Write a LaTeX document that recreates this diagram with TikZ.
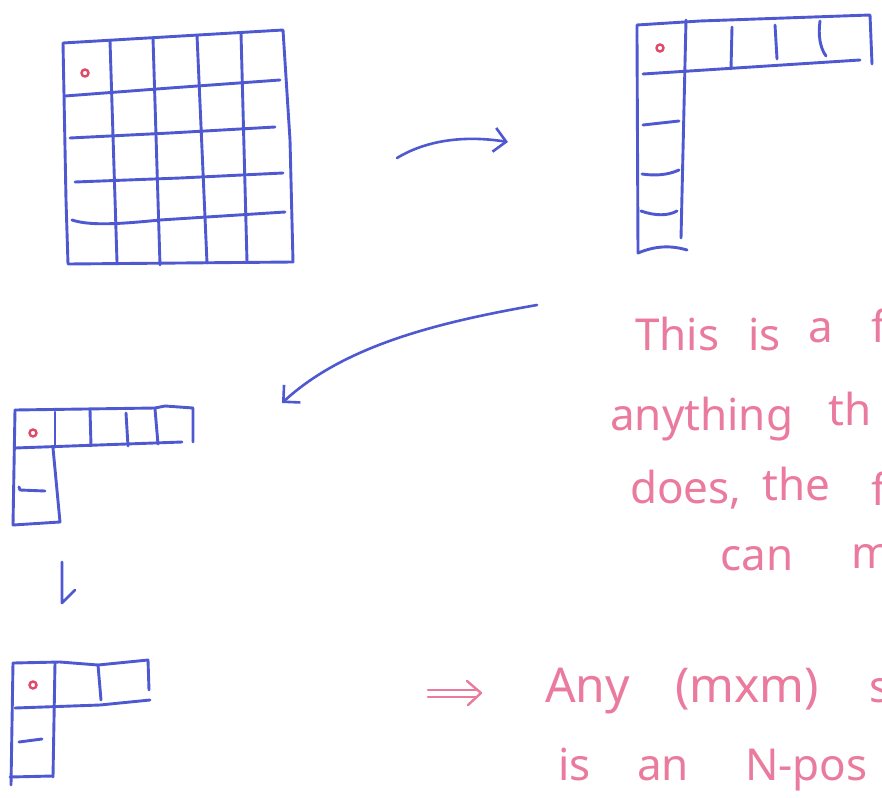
\documentclass[tikz,border=0pt]{standalone}
\usepackage{fontspec}
\setmainfont{Noto Sans}
\usetikzlibrary{arrows.meta}
\definecolor{pen}{RGB}{78,88,208}
\definecolor{ink}{RGB}{234,122,158}
\definecolor{dot}{RGB}{226,72,104}
\tikzset{
  gridline/.style={draw=pen, line width=2.9pt, line cap=round, line join=round},
  reddot/.style={draw=dot, line width=2.4pt, circle, minimum size=7pt, inner sep=0pt},
  hand/.style={text=ink, font=\fontsize{44}{44}\selectfont, anchor=base west, inner sep=0pt},
  big/.style={font=\fontsize{48}{48}\selectfont},
  flow/.style={draw=pen, line width=2.6pt, line cap=round, -{Straight Barb[length=12pt,width=24pt,line width=2.6pt]}},
  pinkpen/.style={draw=ink, line width=2.4pt, line cap=round, line join=round},
}
\begin{document}
\begin{tikzpicture}[x=1pt,y=-1pt]
\useasboundingbox (0,0) rectangle (882,797);
\fill[white] (0,0) rectangle (882,797);

% ---------- grid 1 (5x5) ----------
\draw[gridline] (63,43) -- (283,30) -- (290,140) -- (293,262) -- (68,264) -- (66,200) -- (63,43);
\draw[gridline] (110,41) -- (117,262);
\draw[gridline] (153,38) -- (160,265);
\draw[gridline] (197,35) -- (207,263);
\draw[gridline] (241,33) -- (247,262);
\draw[gridline] (65,96) -- (170,88) -- (280,80);
\draw[gridline] (70,138) -- (170,133) -- (275,127);
\draw[gridline] (75,182) -- (180,178) -- (283,173);
\draw[gridline] (72,220) .. controls (90,226) and (120,224) .. (160,220) -- (285,212);
\node[reddot] (d1) at (85,73) {};

% ---------- grid 2 (L shape, large) ----------
\draw[gridline] (637,36) -- (637,25) -- (700,21) -- (870,15) -- (872,64);
\draw[gridline] (643,74) -- (860,60);
\draw[gridline] (637,36) -- (638,253) .. controls (655,246) and (670,245) .. (687,250);
\draw[gridline] (686,20) -- (681,238);
\draw[gridline] (732,27) -- (731,69);
\draw[gridline] (775,25) -- (777,59);
\draw[gridline] (820,21) .. controls (818,35) and (820,48) .. (826,56);
\draw[gridline] (643,125) -- (679,121);
\draw[gridline] (642,174) .. controls (655,176) and (668,175) .. (679,170);
\draw[gridline] (641,211) .. controls (655,216) and (668,216) .. (677,211);
\node[reddot] (d2) at (660,48) {};

% ---------- grid 3 ----------
\draw[gridline] (15,410) -- (155,408) -- (165,406) -- (193,408) -- (193,442);
\draw[gridline] (15,448) -- (182,442);
\draw[gridline] (15,410) -- (13,525) -- (60,522) -- (53,448);
\draw[gridline] (55,412) -- (55,447);
\draw[gridline] (90,410) -- (91,446);
\draw[gridline] (126,413) -- (128,446);
\draw[gridline] (155,409) -- (158,444);
\draw[gridline] (19,487) -- (20,490) -- (45,491);
\node[reddot] (d3) at (33,433) {};

% ---------- grid 4 ----------
\draw[gridline] (13,663) -- (60,662) -- (98,665) -- (148,660) -- (149,690);
\draw[gridline] (15,708) -- (100,705) -- (150,700);
\draw[gridline] (13,663) -- (11,785);
\draw[gridline] (55,663) -- (53,777);
\draw[gridline] (10,777) -- (53,776);
\draw[gridline] (98,665) -- (101,700);
\draw[gridline] (19,742) -- (42,739);
\node[reddot] (d4) at (33,685) {};

% ---------- arrows ----------
\coordinate (a1s) at (397,158);
\coordinate (a1e) at (508,142);
\draw[flow] (a1s) .. controls (430,138) and (470,136) .. (a1e);
\coordinate (a2s) at (537,305);
\coordinate (a2e) at (282,403);
\draw[flow] (a2s) .. controls (440,322) and (345,345) .. (a2e);
\coordinate (a3s) at (62,562);
\coordinate (a3e) at (62,603);
\draw[draw=pen, line width=2.6pt, line cap=round, line join=round] (a3s) -- (a3e) -- (75,590);

% ---------- implies arrow ----------
\coordinate (i1) at (428,690);
\coordinate (i2) at (476,690);
\coordinate (i3) at (428,697);
\coordinate (i4) at (476,697);
\draw[pinkpen] (i1) -- (i2);
\draw[pinkpen] (i3) -- (i4);
\draw[pinkpen] (467,681) -- (481,693) -- (468,705);

% ---------- handwriting ----------
\node[hand] (t1) at (635,350) {This};
\node[hand] (t2) at (748,350) {is};
\node[hand] (t3) at (808,342) {a};
\node[hand] (t4) at (871,342) {f};
\node[hand] (t5) at (610,430) {anything};
\node[hand] (t6) at (828,425) {th};
\node[hand] (t7) at (630,503) {does,};
\node[hand] (t8) at (762,500) {the};
\node[hand] (t9) at (871,505) {f};
\node[hand] (t10) at (720,570) {can};
\node[hand] (t11) at (851,568) {m};
\node[hand, big] (t13) at (545,702) {Any};
\node[hand, big] (t14) at (675,702) {(mxm)};
\node[hand] (t15) at (869,702) {s};
\node[hand] (t16) at (558,780) {is};
\node[hand] (t17) at (637,780) {an};
\node[hand] (t18) at (745,780) {N-pos};
\end{tikzpicture}
\end{document}
